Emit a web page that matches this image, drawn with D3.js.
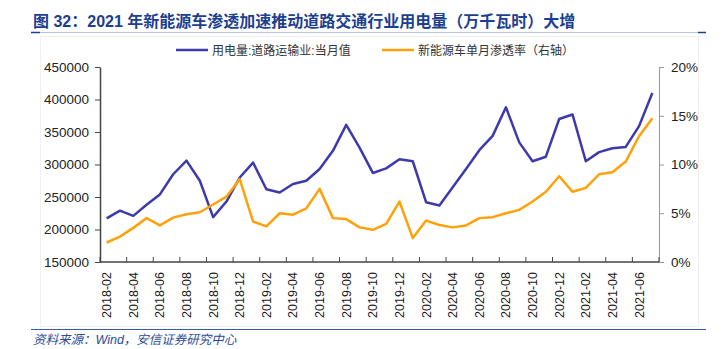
<!DOCTYPE html>
<meta charset="utf-8">
<style>
body { margin: 0; background: #fff; }
svg text { font-family: "Liberation Sans", Arial, "Noto Sans CJK SC", sans-serif; }
</style>
<svg width="725" height="349"></svg>
<script src="https://cdn.jsdelivr.net/npm/d3@7"></script>
<script>
// months 2018-02 .. 2021-07
var months = [];
for (var y = 2018; y <= 2021; y++) {
  for (var m = 1; m <= 12; m++) {
    if ((y === 2018 && m < 2) || (y === 2021 && m > 7)) continue;
    months.push(y + "-" + (m < 10 ? "0" + m : m));
  }
}

// 用电量:道路运输业:当月值 (万千瓦时)
var power = [217000, 229000, 221000, 238000, 254000, 285000, 306000, 275000, 219000, 243000,
  280000, 303000, 262000, 257000, 270000, 275000, 293000, 321000, 361000, 326000,
  287000, 294000, 308000, 305000, 242000, 237000, 265000, 293000, 322000, 344000,
  388000, 334000, 305000, 312000, 370000, 377000, 305000, 319000, 325000, 327000,
  359000, 410000];

// 新能源车单月渗透率 (%)
var rate = [2.0, 2.6, 3.5, 4.5, 3.75, 4.55, 4.9, 5.1, 5.9, 6.7,
  8.5, 4.15, 3.65, 5.0, 4.85, 5.5, 7.5, 4.5, 4.4, 3.55,
  3.3, 3.9, 6.2, 2.45, 4.25, 3.8, 3.55, 3.75, 4.5, 4.6,
  5.0, 5.35, 6.2, 7.2, 8.8, 7.2, 7.6, 9.0, 9.2, 10.3,
  12.9, 14.75];

var leftTicks = [150000, 200000, 250000, 300000, 350000, 400000, 450000];
var rightTicks = [0, 5, 10, 15, 20];

var svg = d3.select("svg");
var blue = "#3d3aab", orange = "#ffa10a";
var plotL = 100, plotR = 659, plotT = 67, plotB = 262;

// title
svg.append("text").attr("x", 33).attr("y", 27)
  .attr("font-size", 16).attr("font-weight", "bold").attr("fill", "#1d3f8f")
  .text("图 32：2021 年新能源车渗透加速推动道路交通行业用电量（万千瓦时）大增");
svg.append("line").attr("x1", 31).attr("x2", 706).attr("y1", 32.5).attr("y2", 32.5)
  .attr("stroke", "#b7c3e3").attr("stroke-width", 1);
svg.append("line").attr("x1", 31).attr("x2", 40).attr("y1", 32.5).attr("y2", 32.5)
  .attr("stroke", "#1d3f8f").attr("stroke-width", 1.5);
svg.append("line").attr("x1", 698).attr("x2", 706).attr("y1", 32.5).attr("y2", 32.5)
  .attr("stroke", "#1d3f8f").attr("stroke-width", 1.5);

// faint chart frame
svg.append("rect").attr("x", 40.5).attr("y", 36.5).attr("width", 658).attr("height", 290)
  .attr("fill", "none").attr("stroke", "#f0f0f0");

// legend
var legend = [
  {name: "用电量:道路运输业:当月值", color: blue, x: 176},
  {name: "新能源车单月渗透率（右轴）", color: orange, x: 382}
];
legend.forEach(function(d) {
  svg.append("line").attr("x1", d.x).attr("x2", d.x + 32).attr("y1", 50).attr("y2", 50)
    .attr("stroke", d.color).attr("stroke-width", 2.5);
  svg.append("text").attr("x", d.x + 36).attr("y", 54.5).attr("font-size", 12)
    .attr("fill", "#333").text(d.name);
});

var x = d3.scaleBand().domain(months).range([plotL, plotR]);
var yL = d3.scaleLinear().domain([150000, 450000]).range([plotB, plotT]);
var yR = d3.scaleLinear().domain([0, 20]).range([plotB, plotT]);

// left axis
var gl = svg.append("g").attr("transform", "translate(" + plotL + ",0)")
  .call(d3.axisLeft(yL).tickValues(leftTicks).tickSize(5).tickSizeOuter(0).tickPadding(6).tickFormat(d3.format("d")));
gl.select(".domain").attr("stroke", "#444").attr("stroke-width", 1.5);
gl.selectAll(".tick line").attr("stroke", "#444");
gl.selectAll("text").attr("font-size", 13.5).attr("fill", "#222")
  .style("font-family", "Liberation Sans, Arial, sans-serif");

// right axis
var gr = svg.append("g").attr("transform", "translate(" + plotR + ",0)")
  .call(d3.axisRight(yR).tickValues(rightTicks).tickSize(5).tickSizeOuter(0).tickPadding(7)
    .tickFormat(function(d) { return d + "%"; }));
gr.select(".domain").attr("stroke", "#999");
gr.selectAll(".tick line").attr("stroke", "#999");
gr.selectAll("text").attr("font-size", 13.5).attr("fill", "#222")
  .style("font-family", "Liberation Sans, Arial, sans-serif");

// bottom axis: ticks at every other band boundary, labels every other month
var boundaries = d3.range(0, months.length + 1, 2).map(function(i) {
  return plotL + i * x.bandwidth();
});
svg.append("g").selectAll("line").data(boundaries).enter().append("line")
  .attr("x1", function(d) { return d; }).attr("x2", function(d) { return d; })
  .attr("y1", plotB).attr("y2", plotB - 5)
  .attr("stroke", "#444");
svg.append("line").attr("x1", plotL).attr("x2", plotR).attr("y1", plotB).attr("y2", plotB)
  .attr("stroke", "#444").attr("stroke-width", 1.5);
svg.append("g").selectAll("text")
  .data(months.filter(function(d, i) { return i % 2 === 0; }))
  .enter().append("text")
  .attr("transform", function(d) {
    return "translate(" + (x(d) + x.bandwidth() / 2 + 4.5) + "," + 272 + ") rotate(-90)";
  })
  .attr("text-anchor", "end").attr("font-size", 12.5).attr("fill", "#222")
  .text(function(d) { return d; });

// lines
var cx = function(d, i) { return x(months[i]) + x.bandwidth() / 2; };
svg.append("path").datum(power)
  .attr("fill", "none").attr("stroke", blue).attr("stroke-width", 2.5)
  .attr("stroke-linejoin", "round")
  .attr("d", d3.line().x(cx).y(function(d) { return yL(d); }));
svg.append("path").datum(rate)
  .attr("fill", "none").attr("stroke", orange).attr("stroke-width", 2.5)
  .attr("stroke-linejoin", "round")
  .attr("d", d3.line().x(cx).y(function(d) { return yR(d); }));

// footer
svg.append("line").attr("x1", 31).attr("x2", 706).attr("y1", 329.5).attr("y2", 329.5)
  .attr("stroke", "#3a5ca8").attr("stroke-width", 1.2);
svg.append("text").attr("x", 33).attr("y", 344).attr("font-size", 12.5)
  .attr("font-style", "italic").attr("fill", "#2a4a9a")
  .text("资料来源：Wind，安信证券研究中心");
</script>
